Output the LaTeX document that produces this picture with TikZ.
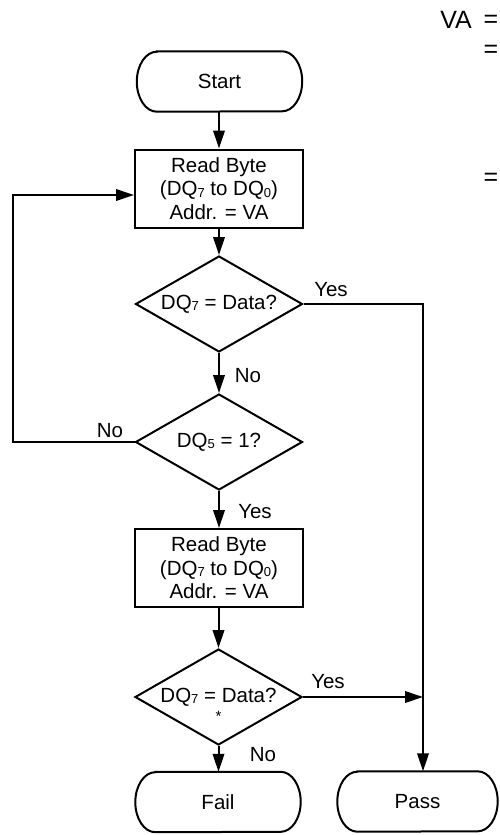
\documentclass[tikz,border=0pt]{standalone}
\usepackage{fontspec}
\setmainfont{Liberation Sans}
\usetikzlibrary{shapes.geometric,arrows.meta}
\newcommand\dqsub[1]{\raisebox{-1.2pt}{\fontsize{13}{13}\selectfont #1}}
\tikzset{
  line/.style={line width=2pt},
  arr/.style={line, -{Triangle[length=18pt,width=11.5pt]}},
  txt/.style={font=\fontsize{20.5}{23.5}\selectfont, inner sep=0pt},
  big/.style={font=\fontsize{25}{28}\selectfont, inner sep=0pt},
  term/.style={txt, rectangle, minimum height=60pt, draw=none},
  procbox/.style={txt, rectangle, draw, line width=2pt, minimum width=168pt, minimum height=78pt, align=center},
  decide/.style={txt, diamond, draw, line width=2pt, aspect=1.74, minimum width=167pt, minimum height=96pt},
}
\newcommand\termnode[4]{%
  \node[term, minimum width=#3] (#1) at (#2) {#4};
  \draw[line] ([xshift=20pt]#1.north west) -- ([xshift=-20pt]#1.north east)
    arc[start angle=90, end angle=-90, x radius=20pt, y radius=30pt]
    -- ([xshift=20pt]#1.south west)
    arc[start angle=270, end angle=90, x radius=20pt, y radius=30pt] -- cycle;
}
\begin{document}
\begin{tikzpicture}[x=1pt, y=-1pt]
\useasboundingbox (0,0) rectangle (499,835);
\clip (0,0) rectangle (499,835);

% top-right fragment
\node[big] (va) at (456,20) {VA};
\node[big, anchor=east] (eq1) at (498.5,21) {=};
\node[big, anchor=east] (eq2) at (498.5,51) {=};
\node[big, anchor=east] (eq3) at (498.5,179) {=};

\termnode{start}{219.5,81.5}{165pt}{Start}
\node[procbox] (box1) at (219,188.5) {Read Byte\\(DQ\dqsub{7} to DQ\dqsub{0})\\Addr. = VA};
\node[decide] (d1) at (219,304) {DQ\dqsub{7} = Data?};
\node[decide] (d2) at (219,442) {DQ\dqsub{5} = 1?};
\node[procbox] (box2) at (219,568) {Read Byte\\(DQ\dqsub{7} to DQ\dqsub{0})\\Addr. = VA};
\node[decide] (d3) at (218.5,697) {DQ\dqsub{7} = Data?};
\node[txt, font=\fontsize{15}{15}\selectfont] (star) at (218.5,716) {*};
\termnode{fail}{218,802}{165pt}{Fail}
\termnode{pass}{417.5,801.5}{160pt}{Pass}

\coordinate (vtop) at (423,304);
\coordinate (vjoin) at (423,697);
\coordinate (loopL) at (13,442);
\coordinate (loopT) at (13,195);

\draw[arr] (start.south -| box1.north) -- (box1.north);
\draw[arr] (box1.south) -- (d1.north);
\draw[arr] (d1.south) -- (d2.north);
\draw[arr] (d1.east) -- (vtop) -- (vtop |- pass.north);
\draw[arr] (d2.west) -- (loopL) -- (loopT) -- (loopT -| box1.west);
\draw[arr] (d2.south) -- (box2.north);
\draw[arr] (box2.south -| d3.north) -- (d3.north);
\draw[arr] (d3.east) -- (vjoin);
\draw[arr] (d3.south) -- (d3.south |- fail.north);

\node[txt] (yes1) at (331,290) {Yes};
\node[txt] (no1) at (248,376) {No};
\node[txt] (no2) at (110,431) {No};
\node[txt] (yes2) at (255,512) {Yes};
\node[txt] (yes3) at (328,682) {Yes};
\node[txt] (no3) at (263,755) {No};
\end{tikzpicture}
\end{document}
